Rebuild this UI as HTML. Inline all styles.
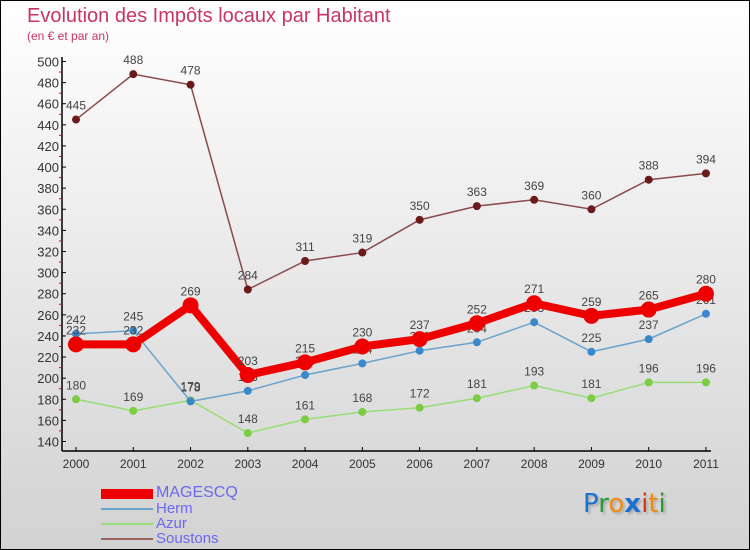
<!DOCTYPE html>
<html><head><meta charset="utf-8"><style>
body{margin:0}
#wrap{position:relative;width:748px;height:548px;border:1px solid #000;background:linear-gradient(#ffffff,#d2d2d2);font-family:"Liberation Sans",sans-serif;overflow:hidden}
.t{position:absolute;color:#c8336a}
.leg{position:absolute;left:155px;font-size:15px;color:#6a6af0;line-height:15px}
.legline{position:absolute;left:100px;width:52px}
</style></head><body>
<div id="wrap">
<div class="t" style="left:26px;top:4px;font-size:20px">Evolution des Impôts locaux par Habitant</div>
<div class="t" style="left:26px;top:28px;font-size:12px">(en € et par an)</div>
<svg id="svg" width="748" height="548" style="position:absolute;left:0;top:0"></svg>
<div class="legline" style="top:488px;height:10px;background:#e00"></div>
<div class="legline" style="top:507px;height:2px;background:#6aa3cc"></div>
<div class="legline" style="top:522px;height:2px;background:#98dd77"></div>
<div class="legline" style="top:537px;height:2px;background:#9a6464"></div>
<div class="leg" style="top:484px;font-size:16px">MAGESCQ</div>
<div class="leg" style="top:500px">Herm</div>
<div class="leg" style="top:515px">Azur</div>
<div class="leg" style="top:530px">Soustons</div>
<div style="position:absolute;left:582px;top:488px;font-size:26px;font-family:'DejaVu Sans',sans-serif;text-shadow:2px 2px 2px #aaa"><span style="color:#1a72d0">P</span><span style="color:#2a9a3a">r</span><span style="color:#f08a10">o</span><span style="color:#1a72d0;font-weight:bold">x</span><span style="color:#e03010">i</span><span style="color:#f08a10">t</span><span style="color:#2a9a3a">i</span></div>
</div>
<script>
const years=["2000","2001","2002","2003","2004","2005","2006","2007","2008","2009","2010","2011"];
const magescq=[232,232,269,203,215,230,237,252,271,259,265,280];
const herm=[242,245,178,188,203,214,226,234,253,225,237,261];
const azur=[180,169,179,148,161,168,172,181,193,181,196,196];
const soustons=[445,488,478,284,311,319,350,363,369,360,388,394];
const yTicks=[140,160,180,200,220,240,260,280,300,320,340,360,380,400,420,440,460,480,500];
const NS="http://www.w3.org/2000/svg";
const svg=document.getElementById('svg');
const x=i=>75+i*57.27;
const y=v=>60.5+(500-v)*(380/360);
function el(t,a,p){const e=document.createElementNS(NS,t);for(const k in a)e.setAttribute(k,a[k]);(p||svg).appendChild(e);return e;}
let ax=el('line',{x1:61,y1:56,x2:61,y2:450,stroke:'#000','stroke-width':1.5});


let bx=el('line',{x1:61,y1:450,x2:710,y2:450,stroke:'#000','stroke-width':1.5});


yTicks.forEach((v,i)=>{
 el('line',{x1:61,y1:y(v),x2:65,y2:y(v),stroke:'#000'});
 if(i<yTicks.length-1)el('line',{x1:58,y1:y(v+10),x2:61,y2:y(v+10),stroke:'#e00'});
 const t=el('text',{x:58,y:y(v)+5,'text-anchor':'end','font-size':13,fill:'#333','font-family':'Liberation Sans, sans-serif'});
 t.textContent=v;
 
 
});
years.forEach((yr,i)=>{
 el('line',{x1:x(i),y1:446,x2:x(i),y2:450,stroke:'#000'});
 const t=el('text',{x:x(i),y:467,'text-anchor':'middle','font-size':12,fill:'#333','font-family':'Liberation Sans, sans-serif'});
 t.textContent=yr;
 
 
});
function series(data,name,color,fill,w,r){
 const g=el('g',{});
 
 
 el('polyline',{points:data.map((v,i)=>x(i)+','+y(v)).join(' '),fill:'none',stroke:color,'stroke-width':w},g);
 data.forEach((v,i)=>{
  const c=el('circle',{cx:x(i),cy:y(v),r:r,fill:fill},g);
  
  
  const t=el('text',{x:x(i),y:y(v)-10,'text-anchor':'middle','font-size':12,fill:'#444','font-family':'Liberation Sans, sans-serif'},g);
  t.textContent=v;
  
  
 });
}
series(azur,'azur','#98dd77','#7ccc44',1.5,4);
series(herm,'herm','#6aa3cc','#3a88cc',1.5,4);
series(soustons,'soustons','#8a4a4a','#6a1a1a',1.5,4);
series(magescq,'magescq','#ee0000','#ee0000',8,8);
</script>
</body></html>
